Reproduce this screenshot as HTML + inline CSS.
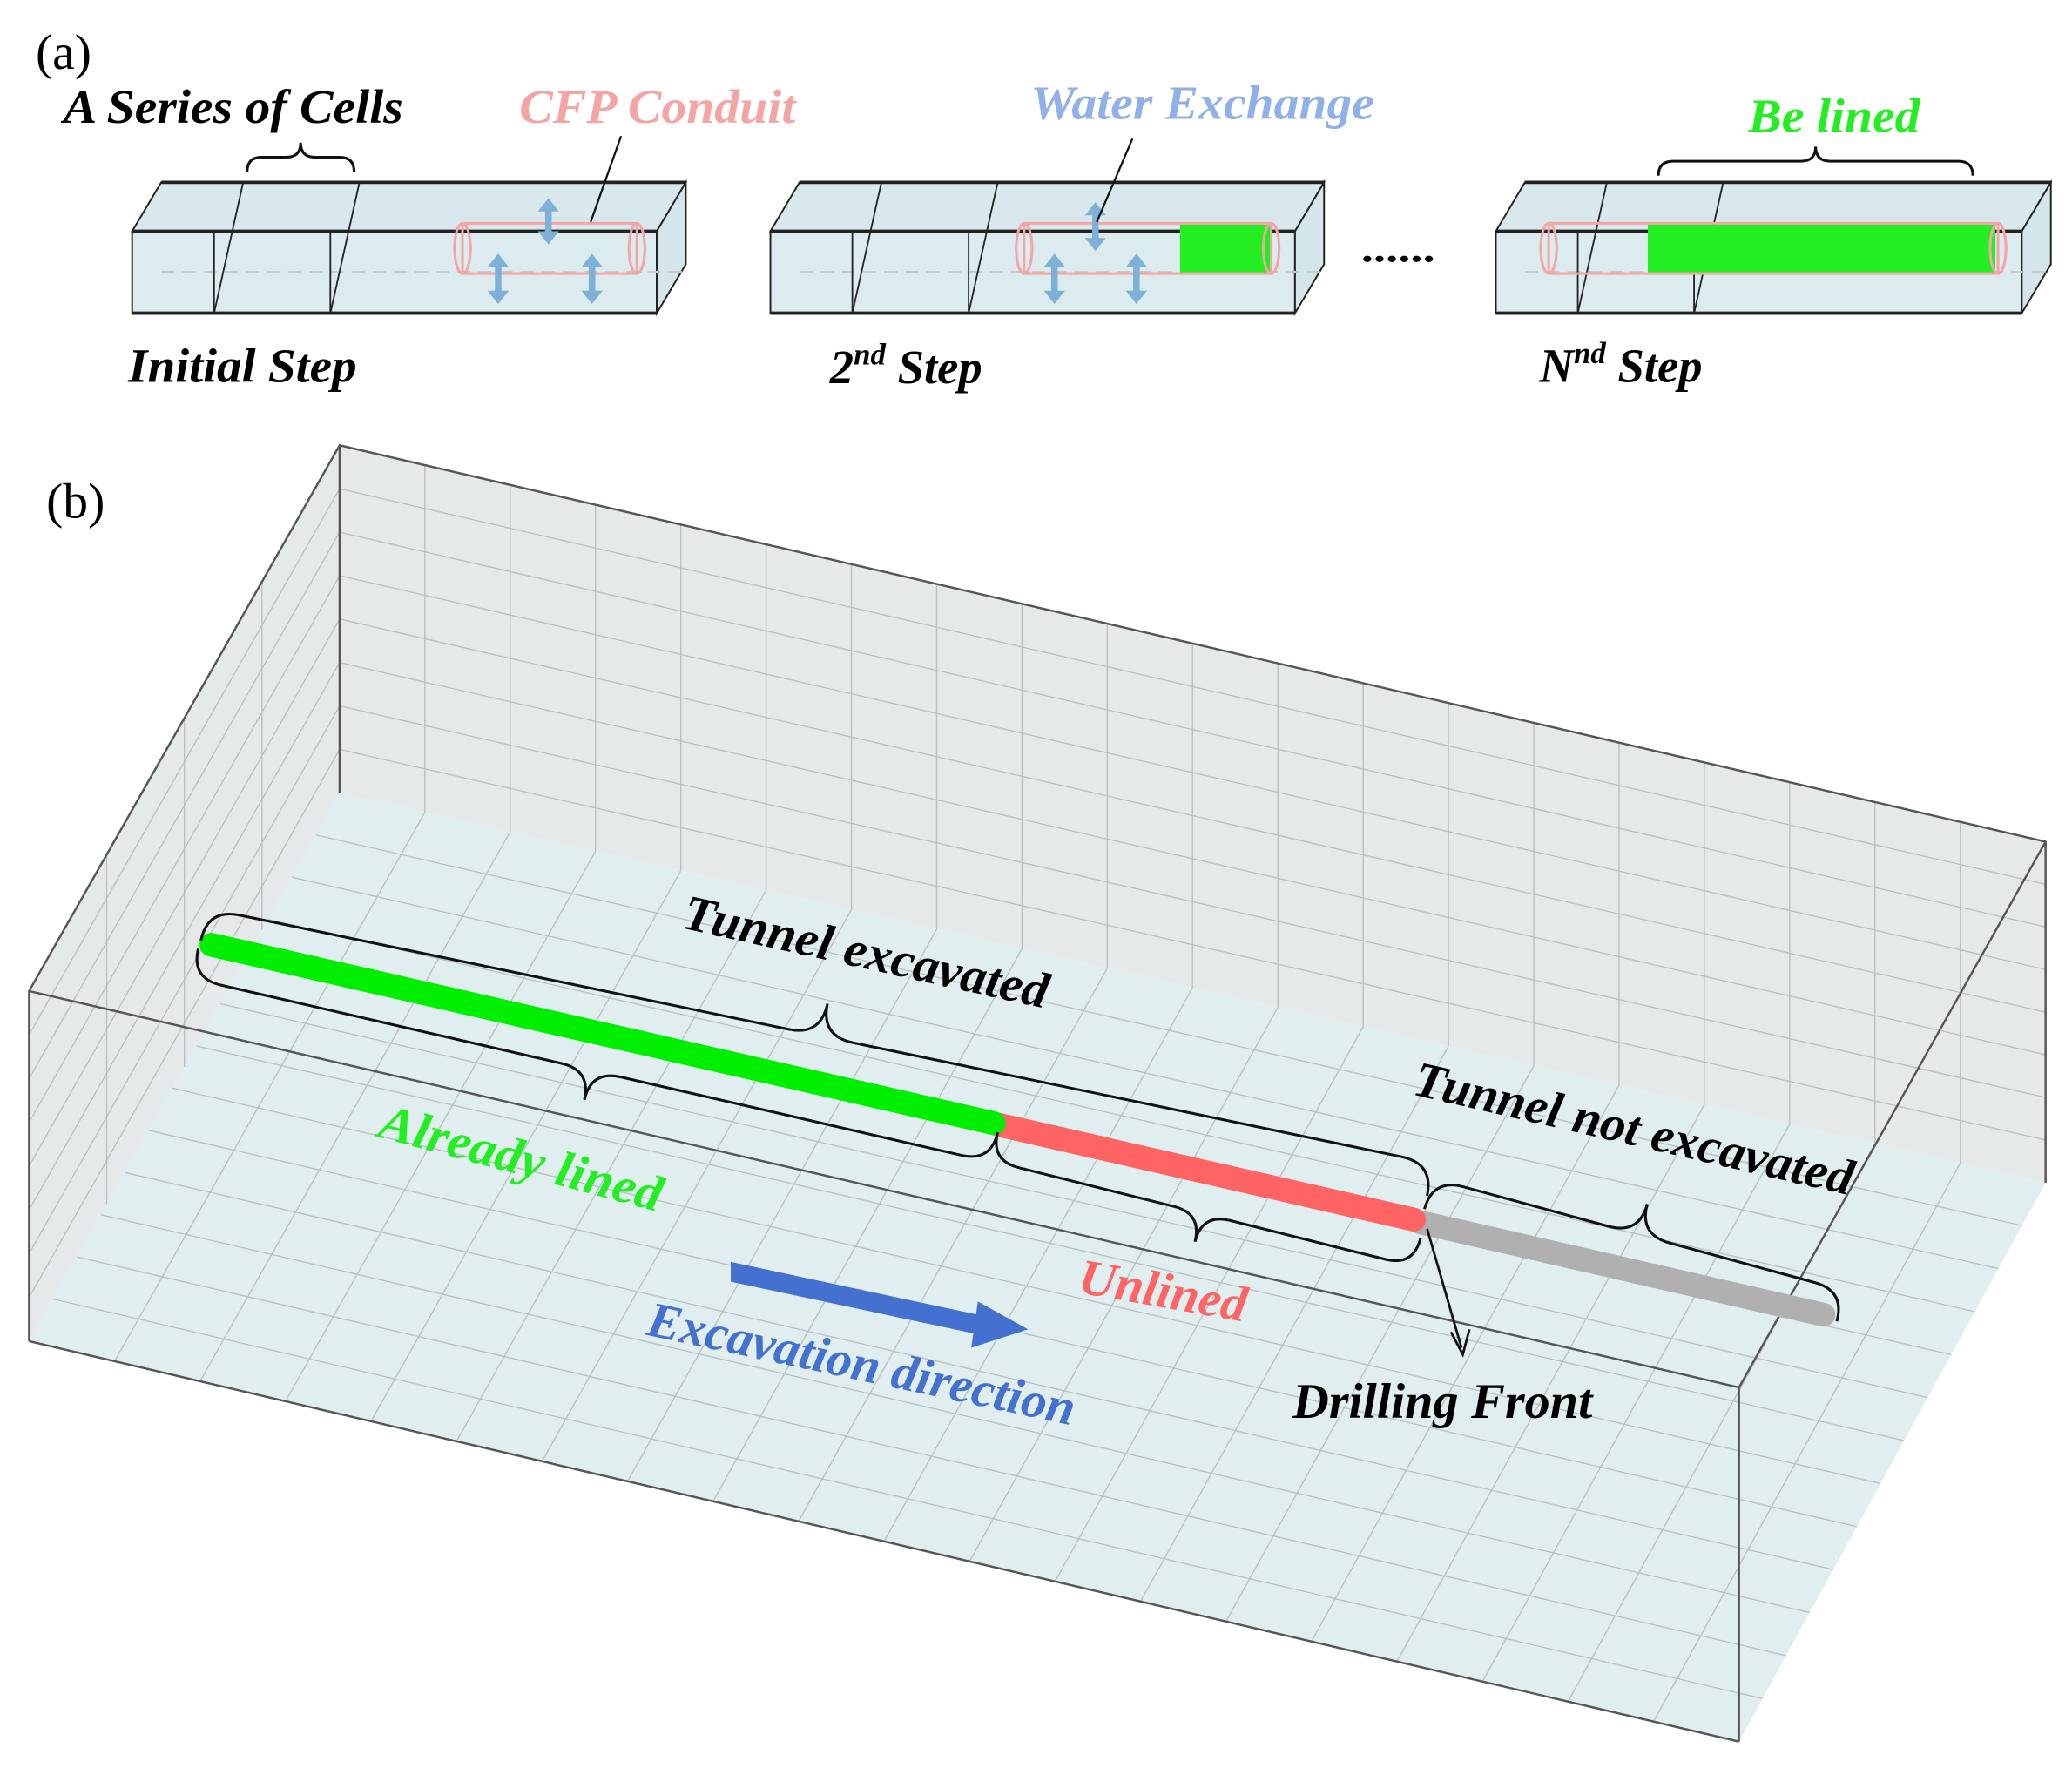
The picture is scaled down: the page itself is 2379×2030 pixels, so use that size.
<!DOCTYPE html>
<html><head><meta charset="utf-8">
<style>
html,body{margin:0;padding:0;background:#fff;}
svg{display:block;}
text{font-family:"Liberation Serif",serif;}
.bi{font-weight:bold;font-style:italic;}
</style></head>
<body>
<svg id="s" xmlns="http://www.w3.org/2000/svg" width="2379" height="2030" viewBox="0 0 1568 1338" preserveAspectRatio="none">
<rect width="1568" height="1338" fill="#fff"/>
<polygon points="257,337 1548,637 1548,895 257,600" fill="#e6e9ea"/>
<polygon points="22,750 257,337 257,600 22,1015" fill="#e6e9ea"/>
<polygon points="257,600 1548,895 1316,1318 22,1015" fill="#e0eef0"/>
<g id="grid" stroke="#b9bfc2" stroke-width="0.9" fill="none"></g>
<g stroke="#555" stroke-width="1.6" fill="none">
<polyline points="22,1015 22,750 257,337 1548,637 1548,895"/>
<line x1="257" y1="337" x2="257" y2="600"/>
<line x1="22" y1="750" x2="1316" y2="1050"/>
<line x1="1548" y1="637" x2="1316" y2="1050"/>
<line x1="1316" y1="1050" x2="1316" y2="1318"/>
<line x1="22" y1="1015" x2="1316" y2="1318"/>
</g>
<line x1="1075" y1="925" x2="1380" y2="995" stroke="#b0b0b0" stroke-width="18" stroke-linecap="round"/>
<line x1="755" y1="851" x2="1070" y2="923" stroke="#ff6464" stroke-width="18" stroke-linecap="round"/>
<line x1="160" y1="715" x2="752" y2="850" stroke="#00ee00" stroke-width="18" stroke-linecap="round"/>
<g id="braces" stroke="#111" stroke-width="2" fill="none"></g>
<polygon points="553,955 745,996 741,1010 553,970" fill="#4470d0"/>
<polygon points="740,985 778,1006 735,1020" fill="#4470d0"/>
<line x1="1080" y1="930" x2="1106" y2="1020" stroke="#111" stroke-width="1.8"/>
<polyline points="1098,1008 1107,1025 1112,1006" stroke="#111" stroke-width="1.8" fill="none"/>
<text x="35" y="392" font-size="38">(b)</text>
<text class="bi" font-size="38" textLength="282" lengthAdjust="spacingAndGlyphs" transform="translate(515,702) rotate(12.5)">Tunnel excavated</text>
<text class="bi" font-size="38" textLength="340" lengthAdjust="spacingAndGlyphs" transform="translate(1068,828) rotate(13)">Tunnel not excavated</text>
<text class="bi" font-size="38" fill="#22ee22" textLength="220" lengthAdjust="spacingAndGlyphs" transform="translate(285,860) rotate(15)">Already lined</text>
<text class="bi" font-size="38" fill="#ff6464" textLength="128" lengthAdjust="spacingAndGlyphs" transform="translate(815,978) rotate(10)">Unlined</text>
<text class="bi" font-size="38" fill="#4470d0" textLength="330" lengthAdjust="spacingAndGlyphs" transform="translate(488,1010) rotate(12)">Excavation direction</text>
<text class="bi" font-size="38" x="978" y="1073" textLength="227" lengthAdjust="spacingAndGlyphs">Drilling Front</text>
<text x="27" y="52" font-size="38">(a)</text>
<text class="bi" font-size="36" x="48" y="93" textLength="257" lengthAdjust="spacingAndGlyphs">A Series of Cells</text>
<text class="bi" font-size="36" x="393" y="93" fill="#f4a4a4" textLength="209" lengthAdjust="spacingAndGlyphs">CFP Conduit</text>
<text class="bi" font-size="36" x="780" y="90" fill="#90b0ea" textLength="260" lengthAdjust="spacingAndGlyphs">Water Exchange</text>
<text class="bi" font-size="36" x="1323" y="100" fill="#22ee22" textLength="130" lengthAdjust="spacingAndGlyphs">Be lined</text>
<text class="bi" font-size="36" x="97" y="289" textLength="173" lengthAdjust="spacingAndGlyphs">Initial Step</text>
<text class="bi" font-size="36" x="628" y="290">2<tspan font-size="23" dy="-14">nd</tspan><tspan dy="14"> Step</tspan></text>
<text class="bi" font-size="36" x="1165" y="289">N<tspan font-size="23" dy="-14">nd</tspan><tspan dy="14"> Step</tspan></text>
<text x="1030" y="198" font-size="30" font-weight="bold" textLength="56" lengthAdjust="spacingAndGlyphs">......</text>
<g id="boxes"></g>
<line x1="470" y1="103" x2="447" y2="168" stroke="#111" stroke-width="1.5"/>
<line x1="857" y1="105" x2="830" y2="168" stroke="#111" stroke-width="1.5"/>
</svg>
<script>
var NS="http://www.w3.org/2000/svg";
function el(p,t,a){var e=document.createElementNS(NS,t);for(var k in a)e.setAttribute(k,a[k]);p.appendChild(e);return e;}
function lerp(a,b,t){return [a[0]+(b[0]-a[0])*t,a[1]+(b[1]-a[1])*t];}
var g=document.getElementById('grid');
function quadGrid(A,B,C,D,nu,nv){
 for(var i=1;i<nu;i++){var t=i/nu,p=lerp(A,B,t),q=lerp(D,C,t);el(g,'line',{x1:p[0],y1:p[1],x2:q[0],y2:q[1]});}
 for(var j=1;j<nv;j++){var t=j/nv,p=lerp(A,D,t),q=lerp(B,C,t);el(g,'line',{x1:p[0],y1:p[1],x2:q[0],y2:q[1]});}
}
quadGrid([257,337],[1548,637],[1548,895],[257,600],20,8);
quadGrid([22,750],[257,337],[257,600],[22,1015],4,8);
quadGrid([257,600],[1548,895],[1316,1318],[22,1015],20,13);
var br=document.getElementById('braces');
function brace(p,x1,y1,x2,y2,d){
 var dx=x2-x1,dy=y2-y1,L=Math.sqrt(dx*dx+dy*dy),a=Math.atan2(dy,dx)*180/Math.PI,h=d/2,m=L/2,s=Math.abs(h);
 var path="M0,0 Q0,"+(-h)+" "+s+","+(-h)+" L"+(m-s)+","+(-h)+" Q"+m+","+(-h)+" "+m+","+(-d)+" Q"+m+","+(-h)+" "+(m+s)+","+(-h)+" L"+(L-s)+","+(-h)+" Q"+L+","+(-h)+" "+L+",0";
 el(p,'path',{d:path,transform:"translate("+x1+","+y1+") rotate("+a+")"});
}
brace(br,152,712,1080,905,50);
brace(br,150,718,755,857,-46);
brace(br,755,857,1075,937,-44);
brace(br,1078,915,1390,1000,48);
brace(br,187,130,268,130,22);
brace(br,1255,133,1493,133,22);
var bx=document.getElementById('boxes');
function box(x0,x1,cyl0,cyl1,g0,g1,arrows){
 var o=22,t=138,f=175,b=237,gr=el(bx,'g',{});
 el(gr,'polygon',{points:(x0+o)+","+t+" "+(x1+o)+","+t+" "+(x1+o)+","+(b-37)+" "+(x0+o)+","+(b-37),fill:"#dcebee"});
 el(gr,'polygon',{points:x0+","+f+" "+(x0+o)+","+t+" "+(x1+o)+","+t+" "+x1+","+f,fill:"#d8e8ec",stroke:"#222","stroke-width":1.3});
 el(gr,'rect',{x:x0,y:f,width:x1-x0,height:b-f,fill:"#dcebee",stroke:"#222","stroke-width":1.3});
 el(gr,'polygon',{points:x1+","+f+" "+(x1+o)+","+t+" "+(x1+o)+","+(b-37)+" "+x1+","+b,fill:"#d4e6ea",stroke:"#222","stroke-width":1.3});
 el(gr,'line',{x1:x0,y1:f,x2:x1,y2:f,stroke:"#222","stroke-width":2.5});
 el(gr,'line',{x1:x0+o,y1:t,x2:x1+o,y2:t,stroke:"#222","stroke-width":2.5});
 el(gr,'line',{x1:x0,y1:b,x2:x1,y2:b,stroke:"#222","stroke-width":2.5});
 el(gr,'line',{x1:x0+o,y1:206,x2:x1+o,y2:206,stroke:"#c8c8c8","stroke-width":2,"stroke-dasharray":"10,6"});
 [62,150].forEach(function(dd){var x=x0+dd;el(gr,'line',{x1:x,y1:b,x2:x,y2:f,stroke:"#222","stroke-width":1.2});el(gr,'line',{x1:x,y1:b,x2:x+o,y2:t,stroke:"#222","stroke-width":1.2});});
 if(g1>g0){el(gr,'rect',{x:g0,y:170,width:g1-g0,height:38,fill:"#22ee22"});}
 el(gr,'rect',{x:cyl0,y:169,width:cyl1-cyl0,height:38,fill:"none",stroke:"#f4a4a4","stroke-width":2});
 el(gr,'ellipse',{cx:cyl0,cy:188,rx:6,ry:19,fill:"none",stroke:"#f4a4a4","stroke-width":2});
 el(gr,'ellipse',{cx:cyl1,cy:188,rx:6,ry:19,fill:"none",stroke:"#f4a4a4","stroke-width":2});
 arrows.forEach(function(a){var x=a[0],y0=a[1],y1=a[2];
  el(gr,'line',{x1:x,y1:y0+8,x2:x,y2:y1-8,stroke:"#7fb0d8","stroke-width":5});
  el(gr,'polygon',{points:(x-8)+","+(y0+10)+" "+x+","+y0+" "+(x+8)+","+(y0+10),fill:"#7fb0d8"});
  el(gr,'polygon',{points:(x-8)+","+(y1-10)+" "+x+","+y1+" "+(x+8)+","+(y1-10),fill:"#7fb0d8"});});
}
box(100,497,350,482,0,0,[[415,150,185],[377,192,230],[448,192,230]]);
box(583,980,775,962,893,962,[[829,153,190],[798,192,230],[860,192,230]]);
box(1132,1530,1172,1512,1247,1510,[]);
</script>
</body></html>
